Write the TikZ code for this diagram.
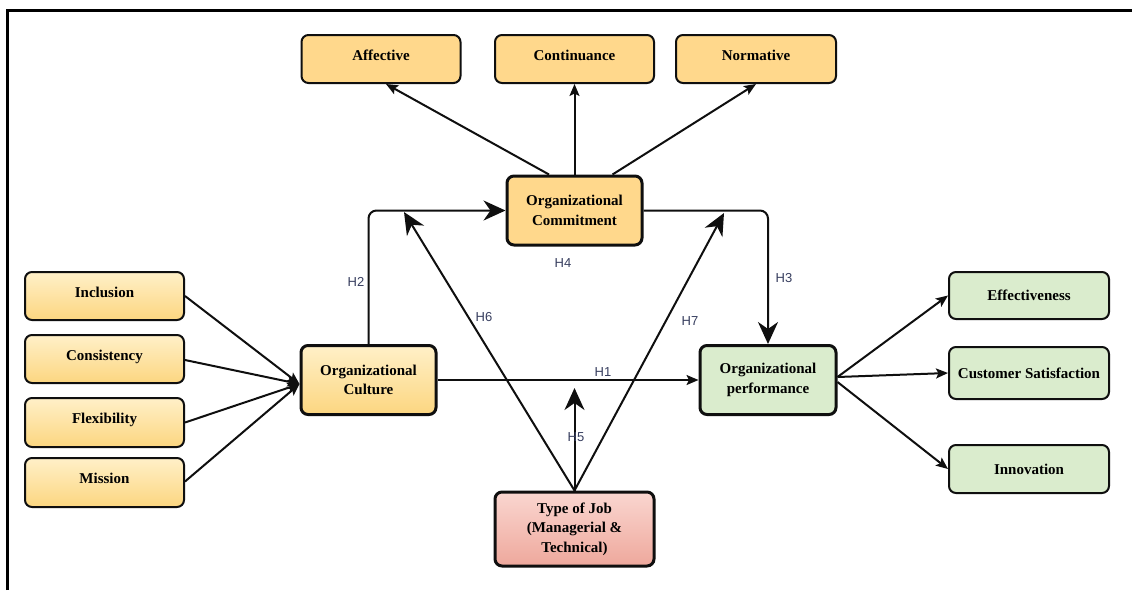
\documentclass[tikz,border=0pt]{standalone}
\usepackage{fontspec}
\setmainfont{Liberation Serif}
\newfontfamily\labfont{Liberation Sans}
\usetikzlibrary{arrows.meta}
\definecolor{ylflat}{RGB}{255,216,140}
\definecolor{yltop}{RGB}{255,240,200}
\definecolor{ylbot}{RGB}{252,214,128}
\definecolor{grn}{RGB}{218,236,205}
\definecolor{pktop}{RGB}{250,214,208}
\definecolor{pkbot}{RGB}{238,168,156}
\definecolor{edgecol}{RGB}{15,15,15}
\definecolor{labcol}{RGB}{55,62,95}
\tikzset{
  boxbase/.style={rounded corners=7pt, draw=edgecol, line width=2pt, align=center,
    font=\fontsize{15}{19.5}\selectfont\bfseries, inner sep=2pt},
  raised/.style={text height=10.5pt, text depth=8.5pt},
  flatbox/.style={boxbase, raised, fill=ylflat, minimum width=159pt, minimum height=48pt},
  leftbox/.style={boxbase, raised, top color=yltop, bottom color=ylbot, minimum width=159pt, minimum height=48pt},
  greenbox/.style={boxbase, fill=grn, minimum width=160pt, minimum height=48pt},
  mainbox/.style={boxbase, line width=3pt, minimum width=135pt, minimum height=69pt},
  thinarrow/.style={draw=edgecol, line width=2pt, -{Stealth[length=12pt,width=10pt,inset=2.5pt]}},
  bigarrow/.style={draw=edgecol, line width=2pt, -{Stealth[length=22pt,width=20pt,inset=7pt]}},
  hlab/.style={font=\labfont\fontsize{13}{13}\selectfont, text=labcol, inner sep=0pt}
}
\begin{document}
\begin{tikzpicture}[x=1pt,y=-1pt]
\useasboundingbox (0,0) rectangle (1132,590);
\fill[white] (0,0) rectangle (1132,590);
% frame
\draw[line width=3pt] (7,590) -- (7,10) -- (1132,10);
% nodes
\node[flatbox] (aff) at (381,59) {Affective};
\node[flatbox] (cont) at (574.5,59) {Continuance};
\node[flatbox, minimum width=160pt] (norm) at (756,59) {Normative};
\node[mainbox, fill=ylflat] (oc) at (574.5,210.5) {Organizational\\Commitment};
\node[mainbox, top color=yltop, bottom color=ylbot] (cult) at (368.5,380) {Organizational\\Culture};
\node[mainbox, fill=grn, minimum width=136pt] (perf) at (768,380) {Organizational\\performance};
\node[mainbox, top color=pktop, bottom color=pkbot, minimum width=159pt, minimum height=74pt] (job) at (574.5,529) {Type of Job\\(Managerial \&\\Technical)};
\node[leftbox] (inc) at (104.5,296) {Inclusion};
\node[leftbox] (cons) at (104.5,359) {Consistency};
\node[leftbox, minimum height=49pt] (flex) at (104.5,422.5) {Flexibility};
\node[leftbox, minimum height=49pt] (miss) at (104.5,482.5) {Mission};
\node[greenbox, minimum height=47pt] (eff) at (1029,295.5) {Effectiveness};
\node[greenbox, minimum height=52pt] (cs) at (1029,373) {Customer Satisfaction};
\node[greenbox] (inn) at (1029,469) {Innovation};
% free ends
\coordinate (h5end) at (574.5,388);
\coordinate (h6end) at (404,212);
\coordinate (h7end) at (724,213);
% commitment dimensions
\draw[thinarrow] ([xshift=-25.5pt]oc.north) -- ([xshift=5pt]aff.south);
\draw[thinarrow] (oc.north) -- (cont.south);
\draw[thinarrow] ([xshift=38pt]oc.north) -- (norm.south);
% culture dimensions
\draw[thinarrow] (inc.east) -- ([yshift=-4pt]cult.west);
\draw[thinarrow] ([yshift=-1pt]cons.east) -- ([yshift=-4pt]cult.west);
\draw[thinarrow] (flex.east) -- ([yshift=-4pt]cult.west);
\draw[thinarrow] ([yshift=1pt]miss.east) -- ([yshift=-4pt]cult.west);
% performance dimensions
\draw[thinarrow] ([yshift=3pt]perf.east) -- (eff.west);
\draw[thinarrow] ([yshift=3pt]perf.east) -- (cs.west);
\draw[thinarrow] ([yshift=-2pt]perf.east) -- (inn.west);
% hypotheses
\draw[bigarrow, rounded corners=8pt] (cult.north) |- (oc.west);
\draw[bigarrow, rounded corners=8pt] (oc.east) -| (perf.north);
\draw[thinarrow] (cult.east) -- (perf.west);
\draw[bigarrow] (job.north) -- (h5end);
\draw[bigarrow] (job.north) -- (h6end);
\draw[bigarrow] (job.north) -- (h7end);
% labels
\node[hlab] (lh1) at (603,372) {H1};
\node[hlab] (lh2) at (356,282) {H2};
\node[hlab] (lh3) at (784,278) {H3};
\node[hlab] (lh4) at (563,263) {H4};
\node[hlab] (lh5) at (576,437) {H5};
\node[hlab] (lh6) at (484,317) {H6};
\node[hlab] (lh7) at (690,321) {H7};
\end{tikzpicture}
\end{document}
